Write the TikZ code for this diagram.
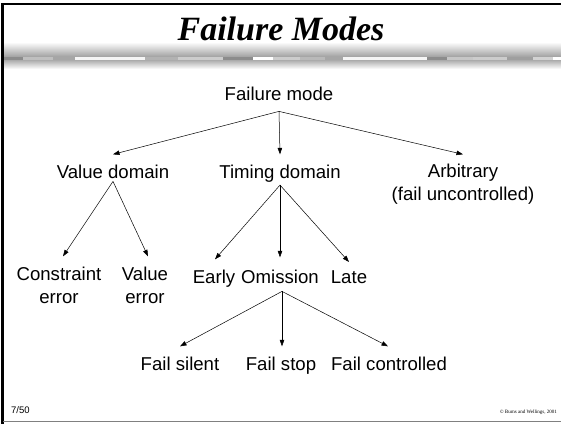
\documentclass[tikz,border=0pt]{standalone}
\usepackage{fontspec}
\setmainfont{Liberation Sans}
\newfontfamily\titlefont{Liberation Serif}
\usetikzlibrary{arrows.meta, positioning}

\tikzset{
  lbl/.style={inner sep=0pt, anchor=base, align=center,
    font=\fontsize{18.6}{23}\selectfont},
  arr/.style={-{Triangle[length=6.5pt,width=4.5pt]}, line width=0.5pt}
}

\begin{document}
\begin{tikzpicture}[x=1pt, y=-1pt]
\useasboundingbox (0,0) rectangle (561,424);
% slide frame
\shade[top color=white, bottom color=gray!80] (3,42) rectangle (561,58);
\shade[top color=gray!80, bottom color=white] (3,58) rectangle (561,69);
\foreach \a/\b/\c in {3/23/gray!90, 23/53/gray!50, 53/75/gray!70, 75/145/gray!8,
  145/178/gray!60, 178/223/gray!40, 223/253/gray!90, 253/273/white,
  273/300/gray!40, 300/325/gray!55, 325/343/gray!70, 343/427/gray!8,
  427/447/gray!90, 447/473/gray!45, 473/507/gray!40, 507/533/gray!75,
  533/553/gray!35, 553/561/white}
  \fill[\c] (\a,56.5) rectangle (\b,59.5);
\draw[line width=2.5pt] (561,4) -- (2.5,4) -- (2.5,424);
\draw[gray, line width=1.5pt] (3,421.5) -- (561,421.5);
\node[inner sep=0pt, anchor=base, font=\titlefont\bfseries\itshape\fontsize{34}{36}\selectfont] (title) at (281,40) {Failure Modes};
\node[inner sep=0pt, anchor=base west, font=\fontsize{9.5}{10}\selectfont] (page) at (11,413) {7/50};
\node[inner sep=0pt, anchor=base east, font=\titlefont\fontsize{5}{6}\selectfont] (copy) at (557,413) {\textcopyright{} Burns and Wellings, 2001};

% tree
\node[lbl] (fm) at (279,100) {Failure mode};
\node[lbl] (vd) at (113,178) {Value domain};
\node[lbl] (td) at (280,178) {Timing domain};
\node[lbl] (arb) at (463,200) {Arbitrary\\(fail uncontrolled)};
\node[lbl] (ce) at (59,303) {Constraint\\error};
\node[lbl] (ve) at (145,303) {Value\\error};
\node[lbl] (early) at (214,283) {Early};
\node[lbl] (om) at (280,283) {Omission};
\node[lbl] (late) at (349,283) {Late};
\node[lbl] (fs) at (180,370) {Fail silent};
\node[lbl] (fp) at (281,370) {Fail stop};
\node[lbl] (fc) at (389,370) {Fail controlled};

\draw[arr] ([yshift=-11pt]fm.south) -- ([yshift=10pt]vd.north);
\draw[arr] ([yshift=-11pt]fm.south) -- ([yshift=10pt]td.north);
\draw[arr] ([yshift=-11pt]fm.south) -- ([yshift=9pt]arb.north);
\draw[arr] ([yshift=-3pt]vd.south) -- ([xshift=4pt,yshift=10pt]ce.north);
\draw[arr] ([yshift=-3pt]vd.south) -- ([xshift=3pt,yshift=10pt]ve.north);
\draw[arr] ([yshift=-3pt]td.south) -- ([xshift=1pt,yshift=10pt]early.north);
\draw[arr] ([yshift=-3pt]td.south) -- ([yshift=12pt]om.north);
\draw[arr] ([yshift=-3pt]td.south) -- ([yshift=8pt]late.north);
\draw[arr] ([xshift=2pt,yshift=-8pt]om.south) -- ([yshift=10pt]fs.north);
\draw[arr] ([xshift=2pt,yshift=-8pt]om.south) -- ([xshift=1pt,yshift=10pt]fp.north);
\draw[arr] ([xshift=2pt,yshift=-8pt]om.south) -- ([xshift=-1pt,yshift=10pt]fc.north);
\end{tikzpicture}
\end{document}
